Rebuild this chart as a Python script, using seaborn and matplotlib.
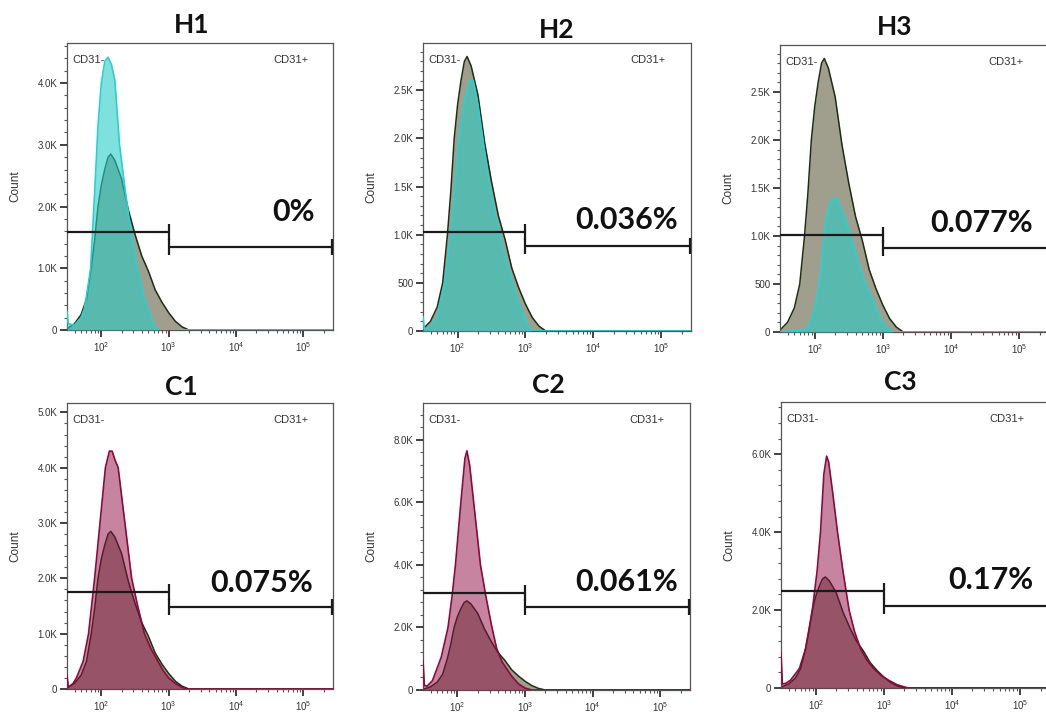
import numpy as np
import pandas as pd
import matplotlib
matplotlib.use("Agg")
import matplotlib.pyplot as plt
import seaborn as sns
from matplotlib.ticker import FixedLocator, MultipleLocator, LogLocator, NullFormatter, FuncFormatter

# ---------------- data ----------------
PANELS = ["H1", "H2", "H3", "C1", "C2", "C3"]
PERCENTS = ["0%", "0.036%", "0.077%", "0.075%", "0.061%", "0.17%"]

# control histogram (same in every panel): log10 intensity / count
CONTROL_LOG = [1.49, 1.6, 1.7, 1.78, 1.85, 1.9, 1.95, 2.0, 2.05, 2.1, 2.14, 2.2, 2.3, 2.4,
               2.5, 2.6, 2.7, 2.8, 2.9, 3.0, 3.1, 3.2, 3.3, 5.44]
CONTROL_COUNT = [20, 100, 250, 500, 1000, 1450, 2000, 2350, 2600, 2800, 2850, 2750, 2450, 1950,
                 1550, 1200, 950, 650, 450, 280, 140, 50, 0, 0]

H1_LOG = [1.49, 1.51, 1.6, 1.7, 1.75, 1.8, 1.84, 1.89, 1.95, 2.0, 2.05, 2.1, 2.15, 2.2, 2.27,
          2.35, 2.44, 2.53, 2.64, 2.78, 2.85, 5.44]
H1_COUNT = [300, 100, 80, 200, 350, 700, 1000, 2000, 3300, 4000, 4350, 4420, 4300, 4050, 3000,
            2300, 1580, 1030, 500, 70, 0, 0]

H2_LOG = [1.49, 1.51, 1.6, 1.7, 1.81, 1.9, 1.96, 2.02, 2.1, 2.18, 2.23, 2.3, 2.37, 2.45, 2.53,
          2.62, 2.72, 2.81, 2.9, 3.0, 3.08, 5.44]
H2_COUNT = [150, 20, 50, 150, 500, 1000, 1500, 2000, 2400, 2600, 2600, 2350, 2000, 1600, 1300,
            1000, 720, 500, 300, 120, 0, 0]

H3_LOG = [1.49, 1.8, 1.9, 1.93, 1.98, 2.03, 2.09, 2.16, 2.24, 2.31, 2.38, 2.45, 2.53, 2.68,
          2.78, 2.88, 2.98, 3.07, 3.15, 5.44]
H3_COUNT = [0, 20, 40, 100, 200, 350, 630, 1160, 1370, 1400, 1300, 1180, 1000, 630,
            450, 290, 120, 40, 0, 0]

C1_LOG = [1.49, 1.51, 1.58, 1.63, 1.73, 1.81, 1.9, 1.98, 2.06, 2.12, 2.16, 2.2, 2.25, 2.35,
          2.45, 2.54, 2.64, 2.74, 2.84, 2.92, 3.0, 3.1, 3.2, 3.28, 5.44]
C1_COUNT = [250, 30, 100, 200, 500, 1000, 2000, 3000, 4000, 4300, 4300, 4150, 4000, 3000,
            2000, 1500, 1000, 720, 500, 330, 200, 100, 30, 0, 0]

C2_LOG = [1.49, 1.51, 1.55, 1.63, 1.76, 1.86, 1.92, 1.97, 2.05, 2.11, 2.14, 2.18, 2.24, 2.34,
          2.42, 2.51, 2.58, 2.66, 2.8, 2.9, 3.0, 3.1, 5.44]
C2_COUNT = [950, 150, 120, 300, 1050, 2000, 3000, 4000, 6000, 7400, 7650, 7200, 6000, 4000,
            3000, 2000, 1330, 900, 450, 200, 60, 0, 0]

C3_LOG = [1.49, 1.51, 1.56, 1.63, 1.76, 1.85, 1.95, 2.02, 2.07, 2.12, 2.16, 2.19, 2.25, 2.32,
          2.4, 2.49, 2.57, 2.66, 2.75, 2.85, 2.96, 3.07, 3.2, 3.36, 5.44]
C3_COUNT = [900, 100, 120, 200, 500, 1000, 2000, 3000, 4000, 5500, 5950, 5800, 5000, 4000,
            3000, 2000, 1450, 1000, 720, 500, 320, 200, 80, 0, 0]

SAMPLE_LOG = [H1_LOG, H2_LOG, H3_LOG, C1_LOG, C2_LOG, C3_LOG]
SAMPLE_COUNT = [H1_COUNT, H2_COUNT, H3_COUNT, C1_COUNT, C2_COUNT, C3_COUNT]

Y_MAX = [4650, 2990, 2990, 5170, 9180, 7340]
Y_MAJOR = [1000, 500, 500, 1000, 2000, 2000]
Y_MINOR = [200, 100, 100, 200, 400, 400]
GATE_NEG_Y = [1590, 1030, 1010, 1750, 3100, 2490]
GATE_POS_Y = [1340, 880, 870, 1480, 2660, 2110]
GATE_SPLIT = 1000
GATE_END = 10 ** 5.42
X_TICKS = [100, 1000, 10000, 100000]

# ---------------- layout / style ----------------
W, H = 1046, 718
AX_PX = [(67, 333, 43, 330), (423, 691, 43, 331), (780, 1049, 45, 332),
         (67, 333, 403, 689), (423, 690, 403, 690), (781, 1050, 402, 688)]
TITLE_PX = [(192, 25), (557, 30), (895, 27), (181, 387), (548, 385), (900, 382)]
PCT_AX = [(0.932, 0.41), (0.951, 0.385), (0.94, 0.38), (0.925, 0.37), (0.955, 0.376), (0.94, 0.378)]

CTRL_FILL = "#a09e8c"
CTRL_EDGE = "#1c2e14"
CYAN_FILL = "#28cdc8"
CYAN_EDGE = "#2ccfcf"
PINK_FILL = "#900a44"
PINK_EDGE = "#8a0a3c"

sns.set_theme(style="ticks")
plt.rcParams["font.family"] = ["Liberation Sans", "DejaVu Sans"]
plt.rcParams["mathtext.fontset"] = "custom"
plt.rcParams["mathtext.rm"] = "Liberation Sans"
plt.rcParams["mathtext.it"] = "Liberation Sans"

fig = plt.figure(figsize=(W / 100, H / 100), dpi=100)
fig.patch.set_facecolor("white")


def yfmt(v, pos):
    if abs(v) < 1e-9:
        return "0"
    if v < 1000:
        return f"{int(round(v))}"
    return f"{v / 1000:.1f}K"


def xfmt(v, pos):
    return r"$10^{%d}$" % int(round(np.log10(v)))


ctrl_df = pd.DataFrame({"x": 10 ** np.array(CONTROL_LOG), "y": CONTROL_COUNT})

for i, name in enumerate(PANELS):
    l, r, t, b = AX_PX[i]
    ax = fig.add_axes([l / W, 1 - b / H, (r - l) / W, (b - t) / H])
    ax.set_xscale("log")
    ax.set_xlim(10 ** 1.49, 10 ** 5.44)
    ax.set_ylim(0, Y_MAX[i])

    is_h = name.startswith("H")
    s_fill = CYAN_FILL if is_h else PINK_FILL
    s_edge = CYAN_EDGE if is_h else PINK_EDGE
    s_alpha = 0.6 if is_h else 0.5

    # control
    ax.fill_between(ctrl_df["x"], ctrl_df["y"], 0, color=CTRL_FILL, lw=0, zorder=1)
    sns.lineplot(data=ctrl_df, x="x", y="y", ax=ax, color=CTRL_EDGE, lw=1.1,
                 sort=False, estimator=None, zorder=2)
    # sample
    sdf = pd.DataFrame({"x": 10 ** np.array(SAMPLE_LOG[i]), "y": SAMPLE_COUNT[i]})
    ax.fill_between(sdf["x"], sdf["y"], 0, color=s_fill, alpha=s_alpha, lw=0, zorder=3)
    sns.lineplot(data=sdf, x="x", y="y", ax=ax, color=s_edge, lw=1.2,
                 sort=False, estimator=None, zorder=4)

    # gates
    x0 = 10 ** 1.49
    ax.plot([x0, GATE_SPLIT], [GATE_NEG_Y[i]] * 2, color="#1a1a1a", lw=1.6, zorder=6)
    ax.plot([GATE_SPLIT], [GATE_NEG_Y[i]], marker="|", ms=11, mew=1.6, color="#1a1a1a", zorder=6)
    ax.plot([GATE_SPLIT, GATE_END], [GATE_POS_Y[i]] * 2, color="#1a1a1a", lw=1.6, zorder=6)
    ax.plot([GATE_SPLIT, GATE_END], [GATE_POS_Y[i]] * 2, ls="none", marker="|", ms=11,
            mew=1.6, color="#1a1a1a", zorder=6)

    # ticks
    ax.xaxis.set_major_locator(FixedLocator(X_TICKS))
    ax.xaxis.set_major_formatter(FuncFormatter(xfmt))
    ax.xaxis.set_minor_locator(LogLocator(base=10, subs=np.arange(2, 10), numticks=20))
    ax.xaxis.set_minor_formatter(NullFormatter())
    ax.yaxis.set_major_locator(MultipleLocator(Y_MAJOR[i]))
    ax.yaxis.set_minor_locator(MultipleLocator(Y_MINOR[i]))
    ax.yaxis.set_major_formatter(FuncFormatter(yfmt))
    ax.tick_params(axis="both", which="major", direction="out", length=5, width=1.3,
                   color="#333333", labelsize=7, labelcolor="#333333", pad=2)
    ax.tick_params(axis="both", which="minor", direction="out", length=2.5, width=0.8,
                   color="#555555")
    for sp in ax.spines.values():
        sp.set_color("#555555")
        sp.set_linewidth(0.9)
        sp.set_visible(True)

    ax.set_xlabel("")
    ax.set_ylabel("Count", fontsize=8.5, color="#333333")
    ax.yaxis.set_label_coords(-0.17, 0.5)

    ax.text(0.02, 0.94, "CD31-", transform=ax.transAxes, fontsize=8, color="#333333",
            ha="left", va="center")
    ax.text(0.84, 0.94, "CD31+", transform=ax.transAxes, fontsize=8, color="#333333",
            ha="center", va="center")
    px, py = PCT_AX[i]
    ax.text(px, py, PERCENTS[i], transform=ax.transAxes, fontsize=22, fontweight="bold",
            family=["Lato", "DejaVu Sans"], ha="right", va="center", color="#111111", zorder=7)

    tx, ty = TITLE_PX[i]
    fig.text(tx / W, 1 - ty / H, name, fontsize=19, fontweight="bold",
             family=["Lato", "DejaVu Sans"], ha="center", va="center", color="#111111")

fig.savefig("out.png", dpi=100, facecolor="white")
